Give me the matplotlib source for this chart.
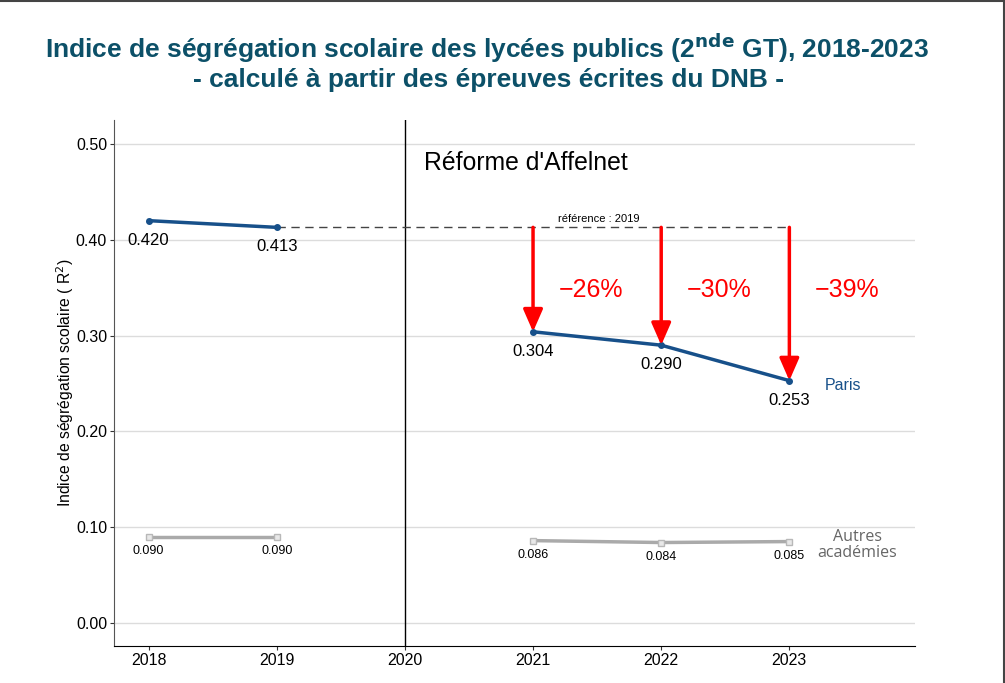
import matplotlib.pyplot as plt
from matplotlib.lines import Line2D

years = [2018, 2019, 2021, 2022, 2023]
paris = [0.420, 0.413, 0.304, 0.290, 0.253]
autres = [0.090, 0.090, 0.086, 0.084, 0.085]
ref_year = 2019
ref_value = 0.413
reform_year = 2020
yticks = [0.0, 0.1, 0.2, 0.3, 0.4, 0.5]
xticks = [2018, 2019, 2020, 2021, 2022, 2023]

plt.rcParams['font.family'] = ['Liberation Sans', 'DejaVu Sans']
blue = '#17508a'
grey = '#aaaaaa'
title_col = '#0c5068'

fig = plt.figure(figsize=(10.05, 6.83), dpi=100)
ax = fig.add_axes([0.1134, 0.0542, 0.797, 0.770])

for yt in yticks:
    ax.axhline(yt, color='#dcdcdc', lw=1, zorder=0)

# Paris: before / after the reform
ax.plot(years[:2], paris[:2], color=blue, lw=2.5, marker='o', ms=4, zorder=3)
ax.plot(years[2:], paris[2:], color=blue, lw=2.5, marker='o', ms=4, zorder=3)

# autres academies
for seg in (slice(0, 2), slice(2, 5)):
    ax.plot(years[seg], autres[seg], color=grey, lw=2.5, marker='s', ms=4.5,
            mfc='#e8e8e8', mec='#b8b8b8', mew=1, zorder=3)

# reference line
ax.plot([ref_year, years[-1]], [ref_value, ref_value], color='#444444', lw=1,
        ls=(0, (6, 4)), zorder=2)
ax.text(2021.51, 0.4217, 'référence : 2019', fontsize=8, ha='center', va='center')

# reform line
ax.axvline(reform_year, color='black', lw=1, zorder=1)
ax.text(2020.15, 0.480, "Réforme d'Affelnet", fontsize=17.8, ha='left', va='center')

# arrows and percent drops
for x, v in zip(years[2:], paris[2:]):
    ax.annotate('', xy=(x, v), xytext=(x, ref_value),
                arrowprops=dict(arrowstyle='-|>,head_length=0.8,head_width=0.35',
                                color='red', lw=2.5, mutation_scale=17,
                                shrinkA=0, shrinkB=0), zorder=4)
    pct = round((v / ref_value - 1) * 100)
    ax.text(x + 0.45, 0.348, f'−{abs(pct)}%', color='red', fontsize=18,
            ha='center', va='center')

# value labels
for x, v in zip(years, paris):
    ax.annotate(f'{v:.3f}', (x, v), xytext=(0, -14), textcoords='offset points',
                ha='center', va='center', fontsize=12)
for x, v in zip(years, autres):
    ax.annotate(f'{v:.3f}', (x, v), xytext=(0, -10.5), textcoords='offset points',
                ha='center', va='center', fontsize=9)

ax.text(2023.42, 0.248, 'Paris', color=blue, fontsize=11.5, ha='center', va='center')
ax.text(2023.53, 0.081, 'Autres\nacadémies', color='#666666', fontsize=11.5,
        ha='center', va='center', family='Open Sans', linespacing=1.0)

ax.set_xlim(2017.73, 2023.98)
ax.set_ylim(-0.024, 0.525)
ax.set_xticks(xticks)
ax.set_yticks(yticks)
ax.set_yticklabels([f'{t:.2f}' for t in yticks])
ax.tick_params(labelsize=11.5, length=3, color='#333333', pad=2)
ax.set_ylabel('Indice de ségrégation scolaire ( R$^2$)', fontsize=11.3, labelpad=0)

for s in ('top', 'right'):
    ax.spines[s].set_visible(False)
ax.spines['left'].set_color('#555555')
ax.spines['bottom'].set_color('black')

fig.text(0.485, 0.929, r'Indice de ségrégation scolaire des lycées publics (2$^{\mathbf{nde}}$ GT), 2018-2023',
         ha='center', va='center', fontsize=19, fontweight='bold', color=title_col)
fig.text(0.486, 0.883, '- calculé à partir des épreuves écrites du DNB -',
         ha='center', va='center', fontsize=19, fontweight='bold', color=title_col)

# frame
fig.add_artist(Line2D([0, 0.999], [0.999, 0.999], transform=fig.transFigure, color='#444444', lw=1.5))
fig.add_artist(Line2D([0.999, 0.999], [0, 0.999], transform=fig.transFigure, color='#444444', lw=1.5))

fig.savefig('out.png', dpi=100)
